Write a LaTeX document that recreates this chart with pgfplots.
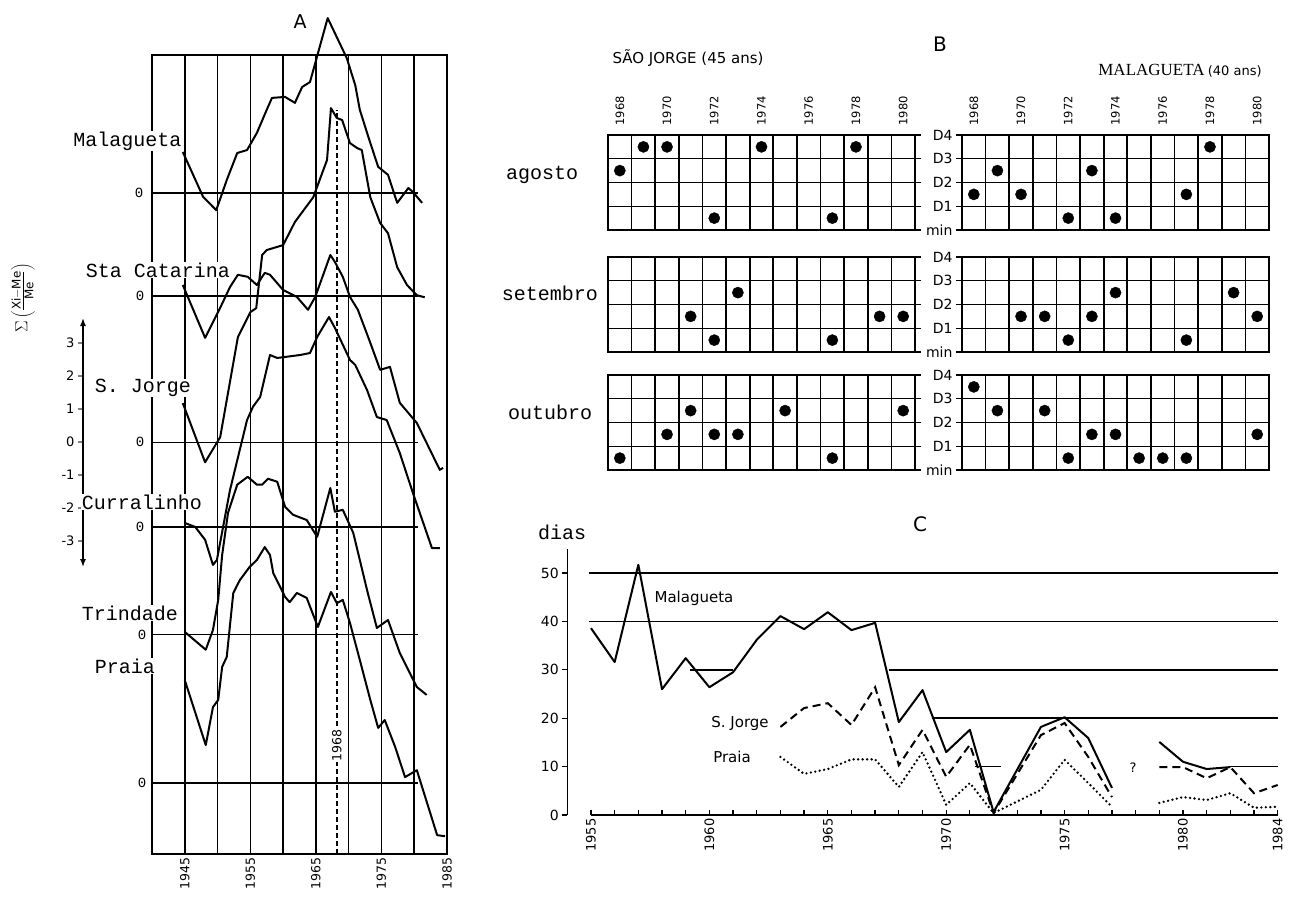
\documentclass[border=0pt]{standalone}
\usepackage{fontspec}
\setmainfont{DejaVu Sans}
\newfontfamily\tw{Liberation Mono}
\newfontfamily\sr{Liberation Serif}
\usepackage{pgfplots}
\pgfplotsset{compat=1.18}
\usetikzlibrary{arrows.meta}

\newcommand\fsz[1]{\fontsize{#1}{#1}\selectfont}

\pgfplotsset{
  curveA/.style={black, line width=2pt, line join=round},
  zeroA/.style={black, line width=1.2pt},
  dotsB/.style={only marks, mark=*, mark size=5.6pt, black},
  gridB/.style={
    scale only axis, width=307pt, height=95pt, anchor=north west,
    xmin=1967.5, xmax=1980.5, ymin=0, ymax=4,
    axis line style={line width=1.7pt},
    xtick={1968,1970,...,1980}, xtick style={draw=none},
    xticklabel=\empty,
    minor xtick={1968.5,1969.5,...,1979.5},
    minor tick length=0pt,
    xminorgrids, minor x grid style={black, line width=1.7pt},
    ytick={0,1,2,3,4}, ymajorgrids, major y grid style={black, line width=1.3pt},
    ytick style={black, line width=1.3pt},
    tick align=outside, major tick length=6pt,
    yticklabel=\empty,
  },
}

\begin{document}
\begin{tikzpicture}[x=1pt,y=1pt]
\useasboundingbox (0,0) rectangle (1292,-899);

% ---------------- A ----------------
\begin{axis}[
  at={(152pt,-55pt)}, anchor=north west,
  scale only axis, width=295pt, height=799pt,
  xmin=1940, xmax=1985, ymin=0, ymax=24.21,
  clip=false,
  axis line style={line width=1.7pt},
  xtick={1945,1950,...,1985},
  xticklabels={1945,,1955,,1965,,1975,,1985},
  xticklabel style={rotate=90, anchor=east, font=\fsz{12.5}},
  xtick style={draw=none},
  ytick=\empty,
  xmajorgrids, major x grid style={black, line width=1.6pt},
]
% zero lines
\addplot[zeroA] coordinates {(1940,20.03)(1980.5,20.03)};
\addplot[zeroA] coordinates {(1940,16.91)(1980.5,16.91)};
\addplot[zeroA] coordinates {(1940,12.48)(1980.5,12.48)};
\addplot[zeroA] coordinates {(1940,9.91)(1980.5,9.91)};
\addplot[zeroA] coordinates {(1940,6.64)(1980.5,6.64)};
\addplot[zeroA] coordinates {(1940,2.15)(1980.5,2.15)};
% 1968
\addplot[black, line width=1.5pt, dash pattern=on 5pt off 3pt] coordinates {(1968.2,0)(1968.2,22.55)};
\node[rotate=90, fill=white, inner sep=1pt, font=\fsz{12.5}] at (axis cs:1968.2,3.3) {1968};

% Malagueta
\addplot[curveA] table[row sep=\\, x=yr, y expr=\thisrow{v}+20.03] {
yr v\\ 1944.7 1.24\\ 1947.8 -0.12\\ 1949.8 -0.52\\ 1951.4 0.39\\ 1953.0 1.21\\
1954.5 1.30\\ 1956.0 1.82\\ 1957.5 2.52\\ 1958.3 2.88\\ 1960.3 2.91\\ 1961.8 2.73\\
1962.9 3.21\\ 1964.1 3.36\\ 1966.8 5.30\\ 1969.7 4.09\\ 1971.0 3.27\\ 1971.7 2.52\\
1973.0 1.70\\ 1974.5 0.79\\ 1976.0 0.55\\ 1977.4 -0.30\\ 1979.1 0.15\\ 1979.8 0.03\\
1981.2 -0.30\\
};
% Sta Catarina
\addplot[curveA] table[row sep=\\, x=yr, y expr=\thisrow{v}+16.91] {
yr v\\ 1944.7 0.33\\ 1948.1 -1.27\\ 1950.4 -0.36\\ 1951.9 0.27\\ 1953.1 0.64\\
1954.6 0.58\\ 1956.0 0.33\\ 1957.2 0.70\\ 1958.0 0.64\\ 1960.0 0.18\\ 1962.1 -0.03\\
1963.8 -0.42\\ 1964.9 -0.03\\ 1967.2 1.24\\ 1967.9 1.03\\ 1969.1 0.58\\ 1970.2 -0.03\\
1971.4 -0.42\\ 1973.3 -1.42\\ 1974.8 -2.24\\ 1976.3 -2.15\\ 1977.8 -3.24\\
1980.4 -3.85\\ 1983.9 -5.27\\ 1984.4 -5.21\\
};
% S. Jorge
\addplot[curveA] table[row sep=\\, x=yr, y expr=\thisrow{v}+12.48] {
yr v\\ 1944.7 1.18\\ 1948.1 -0.61\\ 1950.4 0.15\\ 1953.1 3.18\\ 1955.0 3.94\\
1955.9 4.06\\ 1956.8 5.67\\ 1957.5 5.82\\ 1960.0 5.97\\ 1961.8 6.67\\ 1964.6 7.42\\
1966.7 8.55\\ 1967.3 10.12\\ 1968.2 9.82\\ 1969.0 9.76\\ 1970.2 9.06\\ 1971.3 8.91\\
1972.0 8.85\\ 1973.3 7.42\\ 1974.8 6.64\\ 1976.0 6.33\\ 1977.4 5.30\\ 1978.9 4.76\\
1980.4 4.45\\ 1981.6 4.39\\
};
% Curralinho
\addplot[curveA] table[row sep=\\, x=yr, y expr=\thisrow{v}+9.91] {
yr v\\ 1945.0 0.12\\ 1946.6 0.00\\ 1948.1 -0.39\\ 1949.3 -1.15\\ 1949.9 -1.00\\
1951.9 1.12\\ 1954.5 3.24\\ 1955.4 3.64\\ 1956.5 3.94\\ 1958.0 5.21\\ 1959.1 5.12\\
1962.6 5.21\\ 1964.1 5.27\\ 1965.2 5.76\\ 1967.0 6.36\\ 1967.9 6.03\\ 1970.2 5.06\\
1971.0 4.91\\ 1972.8 4.15\\ 1974.3 3.33\\ 1975.8 3.24\\ 1977.8 2.24\\ 1979.8 1.03\\
1982.7 -0.64\\ 1983.9 -0.64\\
};
% Trindade
\addplot[curveA] table[row sep=\\, x=yr, y expr=\thisrow{v}+6.64] {
yr v\\ 1945.0 0.09\\ 1948.2 -0.45\\ 1949.3 0.15\\ 1950.1 1.06\\ 1950.7 2.42\\
1951.6 3.70\\ 1953.0 4.55\\ 1954.6 4.79\\ 1956.0 4.55\\ 1956.8 4.55\\ 1957.7 4.73\\
1959.1 4.64\\ 1960.3 3.88\\ 1961.5 3.64\\ 1963.6 3.48\\ 1965.2 2.97\\ 1967.2 4.45\\
1967.9 3.73\\ 1969.1 3.79\\ 1970.7 3.09\\ 1971.7 2.27\\ 1972.8 1.36\\ 1974.3 0.21\\
1976.0 0.45\\ 1977.8 -0.55\\ 1980.4 -1.58\\ 1981.9 -1.82\\
};
% Praia
\addplot[curveA] table[row sep=\\, x=yr, y expr=\thisrow{v}+2.15] {
yr v\\ 1945.0 3.12\\ 1948.2 1.15\\ 1949.3 2.30\\ 1950.1 2.52\\ 1950.7 3.52\\
1951.4 3.82\\ 1952.4 5.76\\ 1953.4 6.15\\ 1954.9 6.55\\ 1956.0 6.76\\ 1957.2 7.15\\
1958.0 6.91\\ 1958.5 6.36\\ 1960.3 5.64\\ 1961.0 5.48\\ 1962.1 5.76\\ 1963.6 5.61\\
1965.3 4.73\\ 1967.3 5.79\\ 1968.2 5.45\\ 1969.1 5.55\\ 1970.2 4.85\\ 1971.7 3.73\\
1973.3 2.52\\ 1974.5 1.67\\ 1975.5 1.91\\ 1977.1 1.09\\ 1978.6 0.18\\ 1980.4 0.39\\
1983.5 -1.58\\ 1984.7 -1.61\\
};
\end{axis}

% scale bar
\begin{axis}[
  at={(83pt,-567pt)}, anchor=south west,
  scale only axis, width=1pt, height=249pt,
  xmin=0, xmax=1, ymin=-3.79, ymax=3.76,
  hide x axis, axis y line*=left,
  y axis line style={{Latex[length=8pt]}-{Latex[length=8pt]}, line width=1.5pt},
  ytick={-3,-2,...,3}, tick align=outside, major tick length=5pt,
  ytick style={line width=1.3pt},
  yticklabel style={font=\fsz{13}},
  /pgf/number format/assume math mode=true,
]
\addplot[draw=none] coordinates {(0,0)};
\end{axis}

\node[rotate=90, font=\fsz{17}, inner sep=0pt] at (23,-298) {$\Sigma\left(\frac{\mathrm{Xi-Me}}{\mathrm{Me}}\right)$};
\node[font=\fsz{19}] at (300,-22) {A};
\begin{scope}[every node/.style={font=\tw\fsz{20}, fill=white, inner sep=0.5pt}]
\node[anchor=east] at (182,-141) {Malagueta};
\node at (158,-270) {Sta Catarina};
\node at (143,-388) {S. Jorge};
\node at (142,-502) {Curralinho};
\node at (130,-613) {Trindade};
\node at (125,-666) {Praia};
\end{scope}
\begin{scope}[every node/.style={font=\tw\fsz{14}}]
\node at (139,-193) {0};
\node at (140,-296) {0};
\node at (140,-442) {0};
\node at (140,-527) {0};
\node at (142,-635) {0};
\node at (142,-783) {0};
\end{scope}

% ---------------- B ----------------
\begin{axis}[gridB, at={(608pt,-135pt)}, ytick pos=right,
  xticklabel pos=right, xticklabels={1968,1970,1972,1974,1976,1978,1980},
  xticklabel style={rotate=90, anchor=west, font=\fsz{11.5}}]
\addplot[dotsB] coordinates {(1968,2.5)(1969,3.5)(1970,3.5)(1972,0.5)(1974,3.5)(1977,0.5)(1978,3.5)};
\end{axis}
\begin{axis}[gridB, at={(962pt,-135pt)}, ytick pos=left,
  yticklabels={min,D1,D2,D3,D4}, yticklabel style={font=\fsz{14}},
  xticklabel pos=right, xticklabels={1968,1970,1972,1974,1976,1978,1980},
  xticklabel style={rotate=90, anchor=west, font=\fsz{11.5}}]
\addplot[dotsB] coordinates {(1968,1.5)(1969,2.5)(1970,1.5)(1972,0.5)(1973,2.5)(1974,0.5)(1977,1.5)(1978,3.5)};
\end{axis}
\begin{axis}[gridB, at={(608pt,-257pt)}, ytick pos=right]
\addplot[dotsB] coordinates {(1971,1.5)(1972,0.5)(1973,2.5)(1977,0.5)(1979,1.5)(1980,1.5)};
\end{axis}
\begin{axis}[gridB, at={(962pt,-257pt)}, ytick pos=left,
  yticklabels={min,D1,D2,D3,D4}, yticklabel style={font=\fsz{14}}]
\addplot[dotsB] coordinates {(1970,1.5)(1971,1.5)(1972,0.5)(1973,1.5)(1974,2.5)(1977,0.5)(1979,2.5)(1980,1.5)};
\end{axis}
\begin{axis}[gridB, at={(608pt,-375pt)}, ytick pos=right]
\addplot[dotsB] coordinates {(1968,0.5)(1970,1.5)(1971,2.5)(1972,1.5)(1973,1.5)(1975,2.5)(1977,0.5)(1980,2.5)};
\end{axis}
\begin{axis}[gridB, at={(962pt,-375pt)}, ytick pos=left,
  yticklabels={min,D1,D2,D3,D4}, yticklabel style={font=\fsz{14}}]
\addplot[dotsB] coordinates {(1968,3.5)(1969,2.5)(1971,2.5)(1972,0.5)(1973,1.5)(1974,1.5)(1975,0.5)(1976,0.5)(1977,0.5)(1980,1.5)};
\end{axis}

\node[font=\fsz{20}] at (940,-44) {B};
\node[font=\fsz{15}] at (688,-58) {SÃO JORGE (45 ans)};
\node at (1180,-71) {{\sr\fsz{17}MALAGUETA} {\fsz{13}(40 ans)}};
\begin{scope}[every node/.style={font=\tw\fsz{20}}]
\node at (542,-175) {agosto};
\node at (550,-293) {setembro};
\node at (550,-412) {outubro};
\end{scope}

% ---------------- C ----------------
\begin{axis}[
  at={(567.3pt,-815pt)}, anchor=south west,
  scale only axis, width=710.4pt, height=266.2pt,
  xmin=1954, xmax=1984, ymin=0, ymax=55,
  axis x line*=bottom, axis y line*=left,
  x axis line style={draw=none},
  y axis line style={-, line width=1.6pt},
  xtick={1955,...,1984},
  xticklabels={1955,,,,,1960,,,,,1965,,,,,1970,,,,,1975,,,,,1980,,,,1984},
  xticklabel style={rotate=90, anchor=east, font=\fsz{13}},
  ytick={0,10,...,50},
  yticklabel style={font=\fsz{14}},
  xtick align=inside, ytick align=outside,
  major tick length=5pt,
  tick style={black, line width=1.3pt},
  /pgf/number format/assume math mode=true,
  unbounded coords=jump,
  clip=false,
]
\addplot[black, line width=1.6pt] coordinates {(1955,0)(1984,0)};
% reference lines
\addplot[black, line width=1.5pt] coordinates {(1954.9,50)(1984,50)};
\addplot[black, line width=1.5pt] coordinates {(1954.9,40)(1984,40)};
\addplot[black, line width=1.5pt] coordinates {(1959.2,30)(1961.0,30)};
\addplot[black, line width=1.5pt] coordinates {(1967.6,30)(1984,30)};
\addplot[black, line width=1.5pt] coordinates {(1969.4,20)(1984,20)};
\addplot[black, line width=1.5pt] coordinates {(1971.2,10)(1972.3,10)};
\addplot[black, line width=1.5pt] coordinates {(1982,10)(1984,10)};
% Malagueta
\addplot[black, line width=2pt, line join=round] table[row sep=\\] {
yr d\\ 1955 38.6\\ 1956 31.6\\ 1957 51.7\\ 1958 26.0\\ 1959 32.4\\ 1960 26.4\\
1961 29.5\\ 1962 36.2\\ 1963 41.1\\ 1964 38.4\\ 1965 41.9\\ 1966 38.2\\ 1967 39.7\\
1968 19.2\\ 1969 25.8\\ 1970 13.0\\ 1971 17.6\\ 1972 0.6\\ 1974 18.2\\ 1975 20.2\\
1976 15.9\\ 1977 5.6\\ 1978 nan\\ 1979 15.1\\ 1980 11.0\\ 1981 9.5\\ 1982 9.9\\
};
% S. Jorge
\addplot[black, line width=2pt, dash pattern=on 8pt off 5pt] table[row sep=\\] {
yr d\\ 1963 18.2\\ 1964 22.1\\ 1965 23.1\\ 1966 18.6\\ 1967 26.4\\ 1968 10.3\\
1969 17.6\\ 1970 7.9\\ 1971 14.5\\ 1972 0.4\\ 1974 16.5\\ 1975 19.0\\ 1976 12.0\\
1977 3.7\\ 1978 nan\\ 1979 9.9\\ 1980 9.9\\ 1981 7.6\\ 1982 9.9\\ 1983 4.5\\ 1984 6.2\\
};
% Praia
\addplot[black, line width=2.6pt, line cap=round, dash pattern=on 0pt off 4.5pt] table[row sep=\\] {
yr d\\ 1963 12.0\\ 1964 8.5\\ 1965 9.5\\ 1966 11.5\\ 1967 11.5\\ 1968 5.8\\
1969 13.0\\ 1970 2.1\\ 1971 6.6\\ 1972 0.4\\ 1974 5.2\\ 1975 11.4\\ 1976 6.6\\
1977 1.7\\ 1978 nan\\ 1979 2.5\\ 1980 3.7\\ 1981 3.1\\ 1982 4.5\\ 1983 1.5\\ 1984 1.7\\
};
\end{axis}

\node[font=\fsz{20}] at (920,-524) {C};
\node[font=\tw\fsz{20}] at (562,-532) {dias};
\begin{scope}[every node/.style={font=\fsz{15}}]
\node at (694,-598) {Malagueta};
\node at (740,-723) {S. Jorge};
\node at (732,-757) {Praia};
\node[font=\fsz{13}] at (1133,-768) {?};
\end{scope}
\end{tikzpicture}
\end{document}
